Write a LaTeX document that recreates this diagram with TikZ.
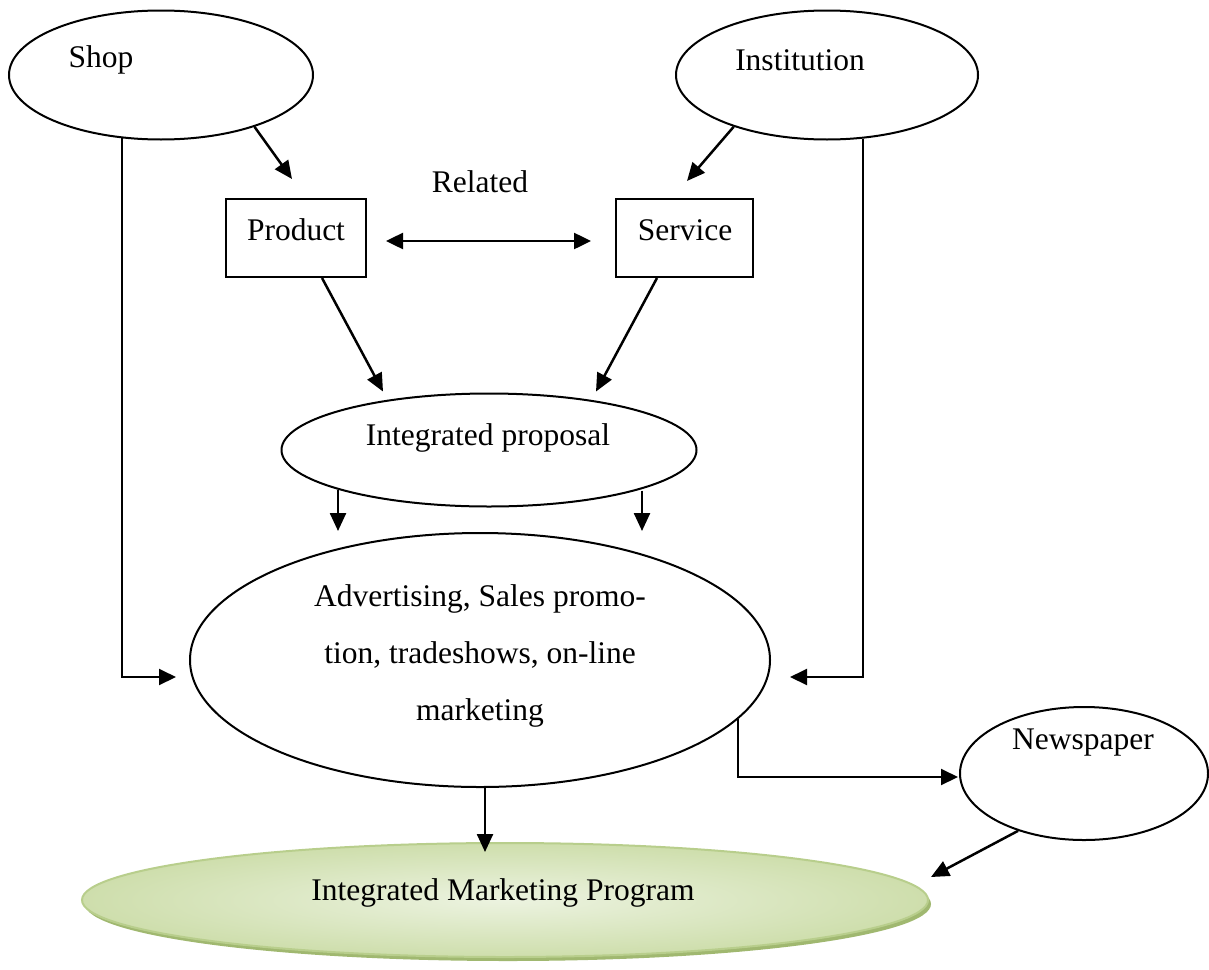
\documentclass[tikz,border=0pt]{standalone}
\usepackage{fontspec}
\setmainfont{Liberation Serif}
\usetikzlibrary{shapes.geometric,arrows.meta,calc,shadows}

\definecolor{impfill}{RGB}{236,243,224}
\definecolor{impedge}{RGB}{206,222,172}
\definecolor{impline}{RGB}{184,206,140}
\definecolor{impshadow}{RGB}{150,176,96}

\tikzset{every picture/.style={line width=2pt}}
\tikzset{
  every node/.style={font=\fontsize{31.5}{57}\selectfont},
  oval/.style={draw,ellipse,inner sep=0pt},
  box/.style={draw,rectangle,inner sep=0pt},
  arr/.style={-{Triangle[length=18pt,width=16pt]},line width=2.5pt},
  dbl/.style={{Triangle[length=17pt,width=16pt]}-{Triangle[length=17pt,width=16pt]},line width=2.5pt},
  elbow/.style={-{Triangle[length=17pt,width=16pt]},line width=2pt}
}

\begin{document}
\begin{tikzpicture}[x=1pt,y=1pt,yscale=-1,xscale=1]
\useasboundingbox (0,0) rectangle (1209,969);

%Shape: Ellipse [shop]
\node [oval,minimum width=304,minimum height=129,label={[xshift=-60pt,yshift=15pt]center:Shop}] (shop) at (161,75) {};
%Shape: Ellipse [institution]
\node [oval,minimum width=302,minimum height=129,label={[xshift=-27pt,yshift=15pt]center:Institution}] (inst) at (827,75) {};

%Shape: Rectangle [product]
\node [box,minimum width=140,minimum height=78,label={[yshift=8pt]center:Product}] (product) at (296,238) {};
%Shape: Rectangle [service]
\node [box,minimum width=137,minimum height=78,label={[xshift=0.5pt,yshift=8pt]center:Service}] (service) at (684.5,238) {};
% Text Node
\node (related) at (480,182) {Related};

%Shape: Ellipse [integrated proposal]
\node [oval,minimum width=415,minimum height=113,label={[xshift=-1pt,yshift=12pt]center:Integrated proposal}] (ip) at (489,450) {};

%Shape: Ellipse [advertising]
\node [oval,minimum width=580,minimum height=254,label={[align=center,yshift=4.5pt]center:Advertising, Sales promo-\\tion, tradeshows, on-line\\marketing}] (adv) at (480,660) {};

%Shape: Ellipse [newspaper]
\node [oval,minimum width=248,minimum height=133,label={[xshift=-1pt,yshift=31pt]center:Newspaper}] (news) at (1084,773.5) {};

%Shape: Ellipse [integrated marketing program]
\node [ellipse,inner sep=0pt,minimum width=846,minimum height=114,draw=impline,line width=2pt,
       inner color=impfill,outer color=impedge,
       drop shadow={shadow xshift=3pt,shadow yshift=-4pt,fill=impshadow,opacity=0.9},
       label={[xshift=-2pt,yshift=7pt]center:Integrated Marketing Program}] (imp) at (505,900) {};

%Straight Lines
\draw [arr] (shop.-29) -- ($(product.north)+(-4,-19)$);
\draw [arr] (inst.-151) -- ($(service.north)+(2.5,-17)$);
\draw [dbl] ($(product.east)+(19,3)$) -- ($(service.west)+(-24,3)$);
\draw [arr] ($(product.south)+(26,0)$) -- ($(ip.north)+(-106,-1)$);
\draw [arr] ($(service.south)+(-27.5,0)$) -- ($(ip.north)+(107,-1)$);
\draw [arr] ($(ip.south)+(-151,-17.5)$) -- ($(adv.north)+(-142,-1)$);
\draw [arr] ($(ip.south)+(153,-17)$) -- ($(adv.north)+(162,-1)$);
\draw [arr] ($(adv.south)+(5,0)$) -- ($(imp.north)+(-20,10)$);
\draw [arr] (news.-139.4) -- ($(imp.east)+(2,-23)$);

%Elbow Lines
\draw [elbow] ($(shop.south)+(-39,-3)$) |- ($(adv.west)+(-13,17)$);
\draw [elbow] ($(inst.south)+(36,-2)$) |- ($(adv.east)+(19,17)$);
\draw [elbow] (adv.-13.8) |- ($(news.west)+(-1,3.5)$);

\end{tikzpicture}
\end{document}
